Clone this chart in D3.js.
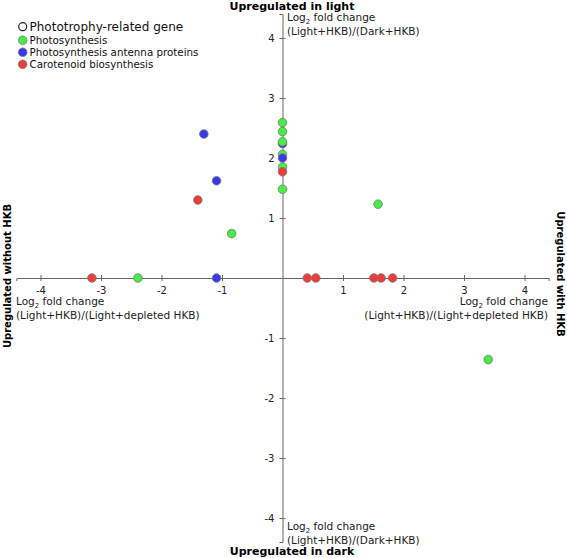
<!DOCTYPE html>
<html><head><meta charset="utf-8">
<script src="https://cdn.jsdelivr.net/npm/d3@7"></script>
<style>body{margin:0;background:#fff}svg{display:block;font-family:"DejaVu Sans",sans-serif}</style>
</head><body><svg id="c" width="567" height="558"></svg>
<script>
const categories = ["Photosynthesis","Photosynthesis antenna proteins","Carotenoid biosynthesis"];
const categoryColors = ["#44ee44","#3838ee","#ee3b3b"];
const legendTitle = "Phototrophy-related gene";
// points: x = log2 (Light+HKB)/(Light+depleted HKB), y = log2 (Light+HKB)/(Dark+HKB)
const pointCategory = [2,0,1, 1,1,2,0, 0,0,1,0, 0,1,0,2,0, 2,2,2,2,2, 0,0];
const pointX = [-3.15,-2.39,-1.09, -1.30,-1.09,-1.40,-0.84, 0,0,0,0, 0,0,0,0,0, 0.41,0.55,1.51,1.63,1.82, 1.58,3.40];
const pointY = [0,0,0, 2.40,1.62,1.30,0.74, 2.59,2.44,2.24,2.27, 2.06,2.00,1.85,1.77,1.48, 0,0,0,0,0, 1.23,-1.36];
const tickValues = [-4,-3,-2,-1,1,2,3,4];
const titles = {top:"Upregulated in light", bottom:"Upregulated in dark", left:"Upregulated without HKB", right:"Upregulated with HKB"};
const yLabelLine2 = "(Light+HKB)/(Dark+HKB)";
const xLabelLine2 = "(Light+HKB)/(Light+depleted HKB)";

const svg = d3.select("#c");
const x = d3.scaleLinear().domain([-4.4,4.4]).range([16.3,548.7]);
const y = d3.scaleLinear().domain([-4.4,4.4]).range([542,14]);
const axisCol = "#666";
const fmt = d => String(d);

const gx = svg.append("g").attr("transform",`translate(0,${y(0)})`)
  .call(d3.axisBottom(x).tickValues(tickValues).tickSizeOuter(0).tickSize(3).tickPadding(6).tickFormat(fmt));
gx.selectAll(".tick line").attr("y1",-3);
const gy = svg.append("g").attr("transform",`translate(${x(0)},0)`)
  .call(d3.axisLeft(y).tickValues(tickValues).tickSizeOuter(0).tickSize(3).tickPadding(5).tickFormat(fmt));
gy.selectAll(".tick line").attr("x1",3);
[gx,gy].forEach(g=>{
  g.select(".domain").attr("stroke",axisCol);
  g.selectAll(".tick line").attr("stroke",axisCol);
  g.selectAll(".tick text").attr("font-family","DejaVu Sans").attr("font-size",10).attr("fill","#222");
});

// points
svg.append("g").selectAll("circle").data(pointX.map((v,i)=>({x:v,y:pointY[i],c:pointCategory[i]})))
  .join("circle").attr("cx",d=>x(d.x)).attr("cy",d=>y(d.y)).attr("r",4.3)
  .attr("fill",d=>categoryColors[d.c]).attr("stroke","#777").attr("stroke-width",0.8);

// axis labels
function logLabel(xp, yp, anchor, line2){
  const t = svg.append("text").attr("x",xp).attr("y",yp).attr("text-anchor",anchor)
    .attr("font-size",10.5).attr("fill","#222");
  t.append("tspan").text("Log");
  t.append("tspan").text("2").attr("font-size",7).attr("dy",3);
  t.append("tspan").text(" fold change").attr("dy",-3);
  svg.append("text").attr("x",xp).attr("y",yp+14).attr("text-anchor",anchor)
    .attr("font-size",10.5).attr("fill","#222").text(line2);
}
logLabel(287,21,"start",yLabelLine2);
logLabel(287,530,"start",yLabelLine2);
logLabel(16,305,"start",xLabelLine2);
logLabel(548,305,"end",xLabelLine2);

// titles
svg.append("text").attr("x",292).attr("y",9.5).attr("text-anchor","middle").attr("font-weight","bold").attr("font-size",11).text(titles.top);
svg.append("text").attr("x",292).attr("y",555).attr("text-anchor","middle").attr("font-weight","bold").attr("font-size",11).text(titles.bottom);
svg.append("text").attr("transform","translate(11,276) rotate(-90)").attr("text-anchor","middle").attr("font-weight","bold").attr("font-size",10).text(titles.left);
svg.append("text").attr("transform","translate(557,274) rotate(90)").attr("text-anchor","middle").attr("font-weight","bold").attr("font-size",10).text(titles.right);

// legend
const lg = svg.append("g");
lg.append("circle").attr("cx",22.7).attr("cy",26.7).attr("r",4).attr("fill","#fff").attr("stroke","#222").attr("stroke-width",1.2);
lg.append("text").attr("x",29.5).attr("y",31).attr("font-size",12).attr("fill","#111").text(legendTitle);
categories.forEach((c,i)=>{
  const cy = 40.3 + i*12;
  lg.append("circle").attr("cx",22.7).attr("cy",cy).attr("r",4.3).attr("fill",categoryColors[i]).attr("stroke","#777").attr("stroke-width",0.8);
  lg.append("text").attr("x",29.5).attr("y",cy+3.7).attr("font-size",10.3).attr("fill","#111").text(c);
});
</script></body></html>
